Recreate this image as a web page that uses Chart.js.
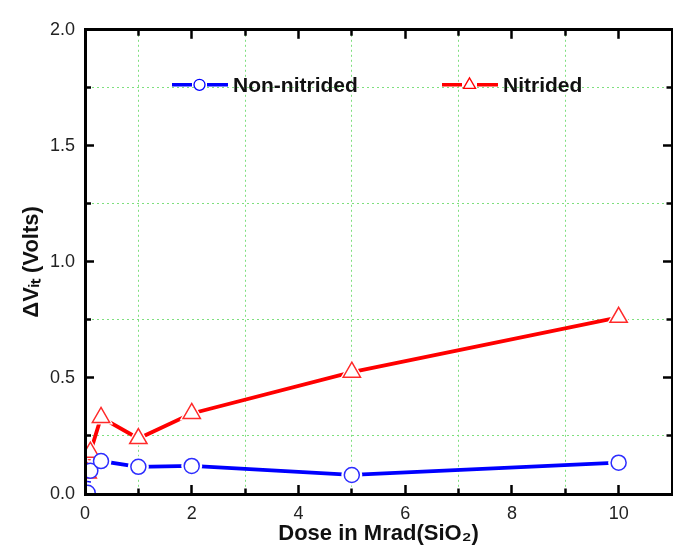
<!DOCTYPE html>
<html>
<head>
<meta charset="utf-8">
<script src="https://cdn.jsdelivr.net/npm/chart.js@4.4.0/dist/chart.umd.min.js"></script>
<style>
    html, body { margin: 0; padding: 0; background: #fff; overflow: hidden; }
    #wrap { width: 690px; height: 557px; }
</style>
</head>
<body>
<div id="wrap"><canvas id="chart"></canvas></div>
<script>
// Data: dose in Mrad(SiO2) and delta Vit in volts
const doseNonNitrided = [0.05, 0.1, 0.3, 1, 2, 5, 10];
const dvitNonNitrided = [0.005, 0.100, 0.142, 0.117, 0.121, 0.082, 0.135];
const doseNitrided = [0.05, 0.1, 0.3, 1, 2, 5, 10];
const dvitNitrided = [0.090, 0.180, 0.330, 0.239, 0.347, 0.525, 0.761];

const seriesLabels = ['Non-nitrided', 'Nitrided'];
const xTickLabels = [0, 2, 4, 6, 8, 10];
const yTickLabels = [0, 0.5, 1.0, 1.5, 2.0];

const BLUE = '#0000ff';
const RED = '#ff0000';
const GRID_COLOR = '#7ee07e';
const FONT = "'Liberation Sans', Arial, sans-serif";
const AXIS_W = 3;
const TICK_MAJOR = 9;
const TICK_MINOR = 6;

Chart.defaults.font.family = FONT;

const toPoints = (xs, ys) => xs.map((x, i) => ({ x, y: ys[i] }));
const isMajorX = v => xTickLabels.includes(v);
const isMajorY = v => yTickLabels.includes(v);

/**
 * Grid + inward ticks for one side of the frame.
 * Minor ticks are shortened with a dash pattern.
 */
function frameGrid(position, isMajor, showGrid) {
    const fromAxis = position === 'bottom' || position === 'right';
    const minorDash = fromAxis
        ? [TICK_MINOR + AXIS_W / 2, 100]
        : [0, TICK_MAJOR - TICK_MINOR, TICK_MINOR + AXIS_W / 2, 100];
    return {
        drawOnChartArea: showGrid,
        color: ctx => (showGrid && ctx.tick && !isMajor(ctx.tick.value)) ? GRID_COLOR : 'rgba(0,0,0,0)',
        lineWidth: 1,
        drawTicks: true,
        tickLength: -TICK_MAJOR,
        tickWidth: 2.5,
        tickColor: '#000',
        tickBorderDash: ctx => (ctx.tick && isMajor(ctx.tick.value)) ? [] : minorDash
    };
}

// in v4 border.dash is what dashes the grid lines
const frameBorder = { display: true, color: '#000', width: AXIS_W, z: 1, dash: [2, 3] };

// Legend drawn inside the plot: line - marker - line, then the label
const insideLegend = {
    id: 'insideLegend',
    afterDraw(chart) {
        const { ctx, chartArea } = chart;
        const y = chartArea.top + 55;
        const items = [
            { text: seriesLabels[0], color: BLUE, style: 'circle', radius: 5.5, x: chartArea.left + 87 },
            { text: seriesLabels[1], color: RED, style: 'triangle', radius: 7, x: chartArea.left + 357 }
        ];
        ctx.save();
        ctx.setLineDash([]);
        items.forEach(it => {
            ctx.strokeStyle = it.color;
            ctx.lineWidth = 3.5;
            ctx.beginPath();
            ctx.moveTo(it.x, y);
            ctx.lineTo(it.x + 20, y);
            ctx.moveTo(it.x + 35, y);
            ctx.lineTo(it.x + 56, y);
            ctx.stroke();
            ctx.lineWidth = 1.3;
            ctx.fillStyle = '#fff';
            Chart.helpers.drawPoint(ctx, { pointStyle: it.style, radius: it.radius, rotation: 0, borderWidth: 1.3 }, it.x + 27.5, y);
            ctx.fillStyle = '#111';
            ctx.font = 'bold 21px ' + FONT;
            ctx.textBaseline = 'middle';
            ctx.textAlign = 'left';
            ctx.fillText(it.text, it.x + 61, y + 1);
        });
        ctx.restore();
    }
};

const blue = toPoints(doseNonNitrided, dvitNonNitrided);
const red = toPoints(doseNitrided, dvitNitrided);

new Chart(document.getElementById('chart'), {
    type: 'line',
    data: {
        datasets: [
            // markers (on top)
            {
                label: seriesLabels[0], data: blue, showLine: false, order: 0, clip: 0,
                pointStyle: 'circle', pointRadius: 7.5, pointBorderWidth: 1.5,
                pointBorderColor: '#2d2dff', pointBackgroundColor: '#fff'
            },
            {
                label: seriesLabels[1], data: red, showLine: false, order: 0, clip: 0,
                pointStyle: 'triangle', pointRadius: 10, pointBorderWidth: 1.5,
                pointBorderColor: '#ff2a2a', pointBackgroundColor: '#fff'
            },
            // lines, with white halos so they stop short of the markers
            {
                data: blue, order: 1, clip: 0, borderColor: BLUE, borderWidth: 3.8, tension: 0,
                pointStyle: 'circle', pointRadius: 10.5, pointBorderWidth: 0,
                pointBackgroundColor: '#fff'
            },
            {
                data: red, order: 1, clip: 0, borderColor: RED, borderWidth: 3.8, tension: 0,
                pointStyle: 'triangle', pointRadius: 14, pointBorderWidth: 0,
                pointBackgroundColor: '#fff'
            }
        ]
    },
    options: {
        responsive: true,
        maintainAspectRatio: false,
        animation: false,
        layout: { padding: 0 },
        plugins: {
            legend: { display: false },
            tooltip: { enabled: false }
        },
        scales: {
            x: {
                type: 'linear', position: 'bottom', min: 0, max: 11,
                ticks: {
                    stepSize: 1, autoSkip: false, maxRotation: 0, padding: 18,
                    color: '#222', font: { size: 18 },
                    callback: v => isMajorX(v) ? String(v) : ''
                },
                grid: frameGrid('bottom', isMajorX, true),
                border: frameBorder,
                title: {
                    display: true, text: 'Dose in Mrad(SiO\u2082)', color: '#111',
                    font: { size: 22, weight: 'bold' }, padding: { top: 0, bottom: 10 }
                },
                afterFit: s => { s.height = 63; }
            },
            xTop: {
                type: 'linear', position: 'top', min: 0, max: 11,
                ticks: { display: false, stepSize: 1, autoSkip: false },
                grid: frameGrid('top', isMajorX, false),
                border: frameBorder,
                afterFit: s => { s.height = 15; }
            },
            y: {
                type: 'linear', position: 'left', min: 0, max: 2,
                ticks: {
                    stepSize: 0.25, autoSkip: false, padding: 19,
                    color: '#222', font: { size: 18 },
                    callback: v => isMajorY(v) ? v.toFixed(1) : ''
                },
                grid: frameGrid('left', isMajorY, true),
                border: frameBorder,
                title: {
                    display: true, text: '\u0394V\u1d62\u209c (Volts)', color: '#111',
                    font: { size: 22, weight: 'bold' }, padding: { top: 19, bottom: 0 }
                },
                afterFit: s => { s.width = 85; }
            },
            yRight: {
                type: 'linear', position: 'right', min: 0, max: 2,
                ticks: { display: false, stepSize: 0.25, autoSkip: false },
                grid: frameGrid('right', isMajorY, false),
                border: frameBorder,
                afterFit: s => { s.width = 14; }
            }
        }
    },
    plugins: [insideLegend]
});
</script>
</body>
</html>
